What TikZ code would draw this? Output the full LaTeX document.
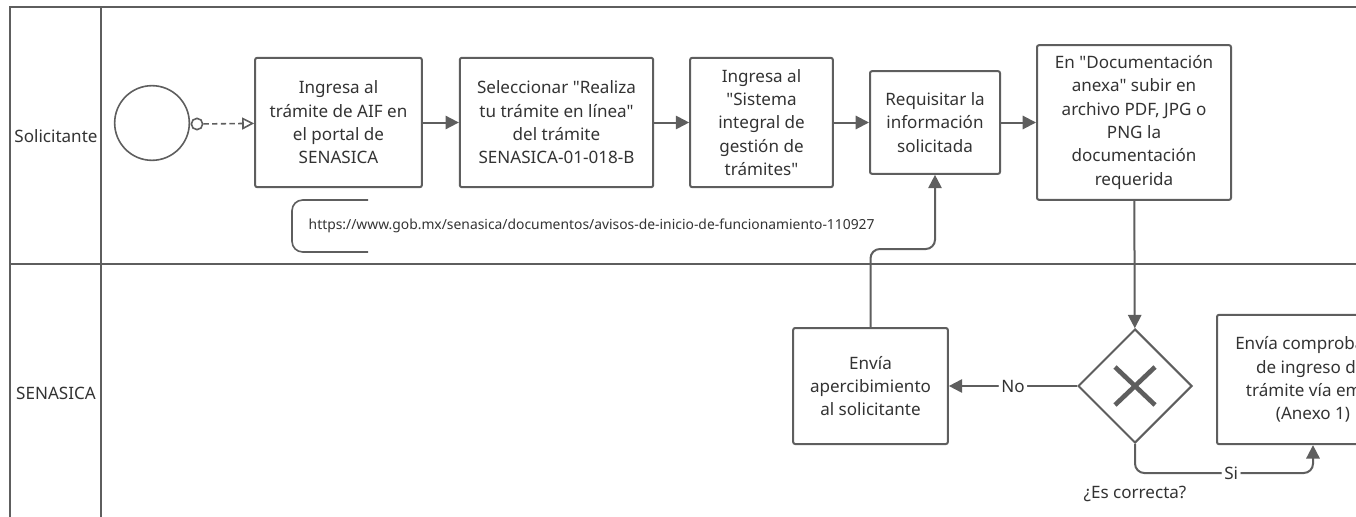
\documentclass[tikz,border=0pt]{standalone}
\usepackage{fontspec}
\setmainfont{Noto Sans}[Ligatures=TeXOff]
\usetikzlibrary{arrows.meta,shapes.geometric,positioning}
\definecolor{linegray}{HTML}{5E5E5E}
\definecolor{textgray}{HTML}{333333}

\begin{document}
\begin{tikzpicture}
[
    x=0.75pt, y=-0.75pt,
    lane/.style={draw=linegray, line width=1.6pt},
    task/.style={draw=linegray, line width=1.5pt, rounded corners=1.5pt, align=center,
        inner sep=0pt, text=textgray, font=\fontsize{12.8}{17.5}\selectfont},
    flow/.style={draw=linegray, line width=1.5pt, rounded corners=7pt,
        -{Triangle[length=10pt, width=10pt]}},
    lbl/.style={fill=white, inner sep=2pt, text=textgray, font=\fontsize{12.8}{14}\selectfont},
]
\useasboundingbox (0,0) rectangle (1356,517);

% lanes
\draw[lane] (10,517) -- (10,7) -- (1370,7);
\draw[lane] (101,7) -- (101,517);
\draw[lane] (10,264) -- (1370,264);
\node[text=textgray, font=\fontsize{12.8}{14}\selectfont] (solicitante) at (56,136) {Solicitante};
\node[text=textgray, font=\fontsize{12.8}{14}\selectfont] (senasica) at (56,393) {SENASICA};

% solicitante
\node[circle, draw=linegray, line width=1.2pt, minimum size=56pt] (start) at (152,123) {};
\node[circle, draw=linegray, line width=1.2pt, fill=white, minimum size=8.5pt, inner sep=0pt] (msg) at (197,124) {};
\node[task, minimum width=125pt, minimum height=97pt] (portal) at (338.5,122.5)
    {Ingresa al\\trámite de AIF en\\el portal de\\SENASICA};
\node[task, minimum width=145pt, minimum height=97pt] (selecciona) at (556.5,122.5)
    {Seleccionar "Realiza\\tu trámite en línea"\\del trámite\\SENASICA-01-018-B};
\node[task, minimum width=107pt, minimum height=97pt] (sistema) at (761.5,122.5)
    {Ingresa al\\"Sistema\\integral de\\gestión de\\trámites"};
\node[task, minimum width=97.5pt, minimum height=77pt] (requisitar) at (935,122.5)
    {Requisitar la\\información\\solicitada};
\node[task, minimum width=145.5pt, minimum height=116pt] (documentos) at (1134,122.5)
    {En "Documentación\\anexa" subir en\\archivo PDF, JPG o\\PNG la\\documentación\\requerida};
\node[anchor=west, text=textgray, font=\fontsize{10.4}{12}\selectfont] (url) at (304,226)
    {https://www.gob.mx/senasica/documentos/avisos-de-inicio-de-funcionamiento-110927};
\draw[linegray, line width=1.2pt, rounded corners=8pt] (368,200) -- (292,200) -- (292,252) -- (368,252);

% senasica
\node[diamond, draw=linegray, line width=1.5pt, minimum size=85.5pt, inner sep=0pt] (gate) at (1135,386) {};
\draw[linegray, line width=3.5pt] ([shift={(-20,-19)}]gate.center) -- ([shift={(20,19)}]gate.center);
\draw[linegray, line width=3.5pt] ([shift={(-20,19)}]gate.center) -- ([shift={(20,-19)}]gate.center);
\node[task, minimum width=116pt, minimum height=87pt] (apercibe) at (870.5,386)
    {Envía\\apercibimiento\\al solicitante};
\node[task, minimum width=144pt, minimum height=97pt] (comprobante) at (1313,379.5)
    {Envía comprobante\\de ingreso del\\trámite vía email\\(Anexo 1)};
\node[text=textgray, font=\fontsize{12.8}{14}\selectfont, below=28pt of gate.south] (pregunta) {¿Es correcta?};

% flujos
\draw[linegray, line width=1.2pt, dash pattern=on 4pt off 2.5pt, -{Triangle[open, length=9pt, width=9pt]}] (msg) -- (portal);
\draw[flow] (portal) -- (selecciona);
\draw[flow] (selecciona) -- (sistema);
\draw[flow] (sistema) -- (requisitar);
\draw[flow] (requisitar) -- (documentos);
\draw[flow] (documentos) -- (gate);
\draw[flow] (gate) -- node[lbl] {No} (apercibe);
\draw[flow] (gate.south) -- ++(0,29) -| node[lbl, pos=0.27] {Si} (comprobante.south);
\draw[flow] (apercibe.north) -- ++(0,-78) -| (requisitar.south);
\end{tikzpicture}
\end{document}
